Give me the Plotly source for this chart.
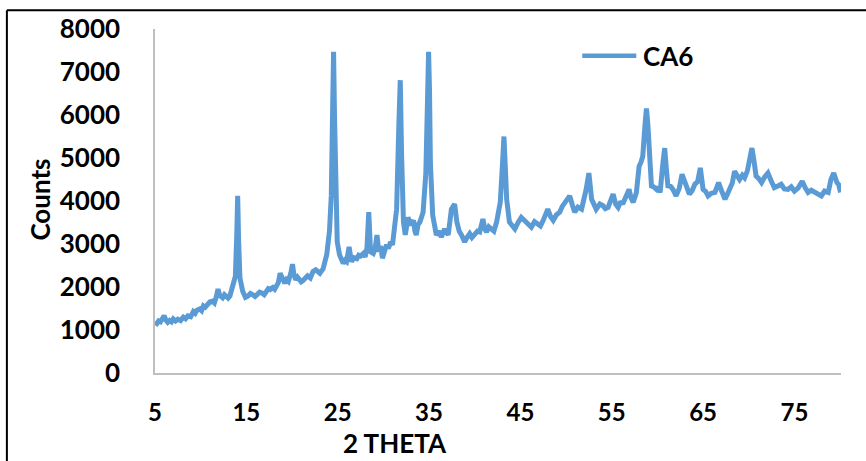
import plotly.graph_objects as go

# Diffraction scan of sample CA6: 2-theta angle (degrees) and detector counts
two_theta = [
    5.0, 5.2, 5.4, 5.6, 5.8, 6.0, 6.2, 6.4, 6.6, 6.8, 7.0, 7.25, 7.5, 7.8, 8.1, 8.35,
    8.6, 8.9, 9.2, 9.4, 9.6, 9.9, 10.1, 10.3, 10.5, 10.7, 11.0, 11.3, 11.5, 11.7,
    11.9, 12.1, 12.4, 12.6, 12.8, 13.0, 13.2, 13.5, 13.8, 13.95, 14.05, 14.15,
    14.3, 14.6, 14.9, 15.2, 15.45, 15.7, 15.95, 16.2, 16.45, 16.7, 16.95, 17.2,
    17.4, 17.6, 17.9, 18.1, 18.3, 18.5, 18.7, 19.0, 19.2, 19.4, 19.6, 19.9, 20.05,
    20.2, 20.4, 20.6, 20.8, 21.0, 21.2, 21.45, 21.7, 22.0, 22.3, 22.6, 22.85,
    23.05, 23.25, 23.4, 23.6, 23.8, 24.1, 24.3, 24.45, 24.55, 24.65, 24.77, 24.95,
    25.2, 25.4, 25.6, 25.8, 25.97, 26.25, 26.5, 26.8, 27.1, 27.3, 27.5, 27.8,
    28.0, 28.2, 28.4, 28.6, 28.9, 29.1, 29.3, 29.5, 29.7, 29.9, 30.1, 30.35, 30.55,
    30.8, 31.0, 31.15, 31.45, 31.7, 31.85, 32.0, 32.2, 32.4, 32.7, 33.0, 33.3,
    33.45, 33.6, 33.8, 34.0, 34.35, 34.65, 34.85, 34.95, 35.05, 35.15, 35.4, 35.6,
    35.8, 36.1, 36.35, 36.7, 36.9, 37.1, 37.45, 37.8, 38.05, 38.3, 38.55, 38.9,
    39.15, 39.45, 39.7, 40.0, 40.3, 40.55, 40.9, 41.1, 41.3, 41.55, 41.8, 42.1,
    42.4, 42.8, 43.05, 43.2, 43.35, 43.5, 43.8, 44.1, 44.4, 44.75, 45.1, 45.4,
    45.7, 45.95, 46.2, 46.55, 46.9, 47.2, 47.5, 48.0, 48.3, 48.6, 48.95, 49.3,
    49.6, 49.85, 50.4, 50.7, 50.95, 51.3, 51.7, 52.2, 52.5, 52.8, 53.05, 53.3,
    53.7, 54.05, 54.3, 54.6, 55.15, 55.45, 55.7, 56.0, 56.2, 56.6, 56.9, 57.1,
    57.35, 57.7, 58.0, 58.2, 58.4, 58.65, 58.8, 58.95, 59.1, 59.35, 59.6, 59.9,
    60.1, 60.3, 60.6, 60.8, 61.0, 61.15, 61.45, 61.7, 62.05, 62.4, 62.7, 62.9,
    63.15, 63.5, 63.8, 64.1, 64.4, 64.7, 65.0, 65.3, 65.55, 65.9, 66.3, 66.7, 67.0,
    67.4, 67.65, 67.9, 68.2, 68.45, 68.7, 69.0, 69.3, 69.55, 69.85, 70.1, 70.35,
    70.6, 70.8, 71.1, 71.4, 71.75, 72.1, 72.45, 72.8, 73.2, 73.55, 73.9, 74.3,
    74.65, 75.0, 75.4, 75.85, 76.2, 76.5, 76.85, 77.2, 77.6, 77.95, 78.3, 78.7,
    79.0, 79.3, 79.65, 79.85, 80.05,
]
counts = [
    1180, 1150, 1210, 1190, 1260, 1330, 1230, 1180, 1220, 1190, 1260, 1210, 1250, 1220, 1300, 1260,
    1330, 1310, 1430, 1390, 1460, 1490, 1450, 1560, 1530, 1600, 1650, 1670, 1630, 1760,
    1950, 1800, 1750, 1820, 1790, 1740, 1790, 1980, 2250, 3200, 4120, 3100,
    2210, 1900, 1760, 1790, 1850, 1820, 1780, 1830, 1880, 1860, 1820, 1900,
    1960, 1940, 1990, 1950, 2050, 2100, 2320, 2150, 2090, 2170, 2130, 2350, 2530,
    2300, 2170, 2230, 2180, 2120, 2150, 2230, 2260, 2210, 2360, 2400, 2330,
    2320, 2380, 2420, 2590, 2750, 3300, 4130, 6200, 7470, 6000, 4270, 3050,
    2750, 2620, 2550, 2620, 2590, 2930, 2590, 2680, 2660, 2740, 2720, 2780,
    2700, 2900, 3740, 2820, 2780, 2900, 3210, 2820, 2950, 2670, 2850, 2980, 2900,
    3050, 2980, 3210, 3810, 5800, 6810, 5040, 3510, 3210, 3620, 3440, 3550,
    3300, 3210, 3450, 3510, 3740, 4650, 6500, 7470, 6600, 4880, 3670, 3350,
    3210, 3300, 3160, 3350, 3250, 3210, 3810, 3930, 3510, 3300, 3210, 3050,
    3150, 3240, 3150, 3210, 3300, 3280, 3580, 3350, 3280, 3400, 3350, 3300,
    3510, 3970, 4900, 5500, 4800, 4040, 3510, 3420, 3350, 3500, 3620, 3560,
    3510, 3440, 3390, 3520, 3470, 3420, 3550, 3810, 3640, 3550, 3680, 3740,
    3880, 3970, 4120, 3900, 3740, 3860, 3810, 4270, 4650, 4040, 3880, 3810,
    3930, 3890, 3820, 3850, 4160, 3920, 3850, 3990, 3930, 4160, 4270, 4080,
    3970, 4200, 4810, 4900, 5040, 5800, 6150, 5800, 5270, 4350, 4330, 4270,
    4320, 4200, 4880, 5230, 4700, 4350, 4340, 4270, 4120, 4300, 4620, 4480,
    4350, 4160, 4240, 4390, 4450, 4770, 4270, 4220, 4120, 4180, 4200, 4430, 4250,
    4040, 4150, 4270, 4420, 4690, 4580, 4500, 4600, 4540, 4700, 4960, 5230,
    4900, 4580, 4520, 4430, 4560, 4650, 4470, 4310, 4350, 4390, 4280, 4270,
    4330, 4230, 4300, 4460, 4300, 4200, 4250, 4200, 4150, 4120, 4230, 4200,
    4500, 4650, 4430, 4380, 4200,
]
x_ticks = [5, 15, 25, 35, 45, 55, 65, 75]
y_ticks = [0, 1000, 2000, 3000, 4000, 5000, 6000, 7000, 8000]
series_name = "CA6"

LINE_BLUE = "#5B9BD5"
AXIS_GREY = "#BFBFBF"
FONT = "Lato"
bold = dict(family=FONT, size=26, color="#000000", weight="bold")
bold_x = dict(family=FONT, size=24, color="#000000", weight="bold")

fig = go.Figure()
fig.add_trace(go.Scatter(
    x=two_theta, y=counts, mode="lines", name=series_name,
    line=dict(color=LINE_BLUE, width=5), showlegend=False,
))

fig.update_layout(
    width=866, height=461,
    margin=dict(l=155, r=25, t=24, b=88),
    paper_bgcolor="white", plot_bgcolor="white",
    xaxis=dict(
        range=[5, 80.1], tickvals=x_ticks, ticktext=[str(v) for v in x_ticks],
        showgrid=False, zeroline=False, showline=True, linecolor=AXIS_GREY, linewidth=1.5,
        ticks="", tickfont=bold_x, ticklabelstandoff=17,
    ),
    yaxis=dict(
        range=[0, 8000], tickvals=y_ticks, ticktext=[str(v) for v in y_ticks],
        showgrid=False, zeroline=False, showline=True, linecolor=AXIS_GREY, linewidth=1.5,
        ticks="", tickfont=bold, ticklabelstandoff=28,
    ),
    annotations=[
        dict(text="Counts", xref="paper", yref="paper", x=-0.1677, y=0.504,
             textangle=-90, showarrow=False, font=bold, xanchor="center", yanchor="middle"),
        dict(text="2 THETA", xref="paper", yref="paper", x=0.350, y=-0.203,
             showarrow=False, font=bold, xanchor="center", yanchor="middle"),
        dict(text=series_name, xref="paper", yref="paper", x=0.7089, y=0.9226,
             showarrow=False, font=bold, xanchor="left", yanchor="middle"),
    ],
    shapes=[
        # legend key
        dict(type="line", xref="paper", yref="paper", x0=0.6228, x1=0.7016,
             y0=0.9226, y1=0.9226, line=dict(color=LINE_BLUE, width=4.5)),
        # outer frame (left and top edges)
        dict(type="line", xref="paper", yref="paper", x0=-0.2159, x1=-0.2159,
             y0=-0.4, y1=1.0544, line=dict(color="#000000", width=2)),
        dict(type="line", xref="paper", yref="paper", x0=-0.2159, x1=1.2,
             y0=1.0544, y1=1.0544, line=dict(color="#000000", width=2)),
    ],
)

fig.write_html("out.html")
